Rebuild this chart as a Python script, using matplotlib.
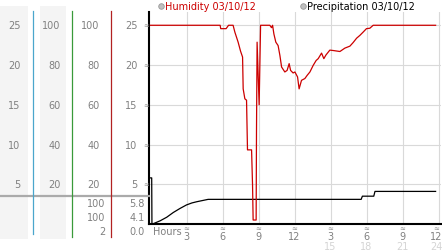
import matplotlib
matplotlib.use("Agg")
import matplotlib.pyplot as plt
from matplotlib.lines import Line2D
from matplotlib.patches import Rectangle
from matplotlib.transforms import blended_transform_factory

# ---------------- data ----------------
hum_hours = [0.0, 5.8, 5.85, 6.3, 6.5, 6.88, 7.03, 7.3, 7.5, 7.67, 7.72, 7.86, 8.0, 8.08,
             8.42, 8.5, 8.55, 8.8, 8.83, 8.88, 9.05, 9.17, 9.94, 10.08, 10.17, 10.28,
             10.44, 10.63, 10.78, 10.92, 11.19, 11.38, 11.55, 11.67, 11.88, 12.03, 12.25,
             12.38, 12.58, 12.86, 13.05, 13.28, 13.55, 13.8, 13.97, 14.25, 14.44, 14.61,
             14.94, 15.22, 15.78, 16.19, 16.61, 16.88, 17.17, 17.44, 17.72, 17.99, 18.27,
             18.55, 23.75]
hum_pct = [100, 100, 98.3, 98.3, 100, 100, 96.5, 91.5, 87, 84, 68, 63, 62.3, 37.3,
           37.3, 19.7, 2, 2, 46.6, 91.5, 60, 100, 100, 98.8, 100, 95.6,
           91.5, 89.8, 84.8, 79, 76.5, 77.3, 80.7, 77.3, 76, 76.5, 74,
           68, 72.3, 73.2, 74.8, 76.5, 79.8, 82.3, 83.2, 86, 83.2, 85,
           87.5, 87.3, 86.8, 88.5, 89.5, 91.3, 93.5, 94.9, 96.6, 98.3, 98.5,
           100, 100]

pre_hours = [0.0, 0.1, 0.12, 0.25, 0.8, 1.35, 1.9, 2.45, 3.0, 3.45, 3.85, 4.8,
             17.55, 17.65, 18.6, 18.7, 23.75]
pre_mm = [5.8, 5.8, 0.0, 0.05, 0.4, 0.85, 1.45, 1.95, 2.4, 2.65, 2.8, 3.1,
          3.1, 3.5, 3.5, 4.1, 4.1]

left_scale = [25, 20, 15, 10, 5]          # columns 1 and 4
pct_scale = [100, 80, 60, 40, 20]         # columns 2 and 3
hum_stats = ["100", "100", "2"]
pre_stats = ["5.8", "4.1", "0.0"]
hour_ticks = [3, 6, 9, 12, 15, 18, 21, 24]
hour_labels = ["3", "6", "9", "12", "3", "6", "9", "12"]
hour_labels2 = ["15", "18", "21", "24"]
legend_items = ["Humidity 03/10/12", "Precipitation 03/10/12"]

# ---------------- figure ----------------
W, H = 442, 253
fig = plt.figure(figsize=(W / 100, H / 100), dpi=100)
fig.patch.set_facecolor("white")

def fx(x):
    return x / W

def fy(y):
    return 1 - y / H

GRAY = "#808080"
MARK = "#8c8c8c"
FS = 7

ax = fig.add_axes([fx(149.3), fy(225), (441 - 149.3) / W, 212 / H])
ax.set_xlim(-0.1, 24.2)
ax.set_ylim(0, 26.67)
ax_h = ax.twinx()
ax_h.set_ylim(0, 26.67 * 4)
for a in (ax, ax_h):
    for s in ("top", "right"):
        a.spines[s].set_visible(False)
ax_h.spines["left"].set_visible(False)
ax_h.spines["bottom"].set_visible(False)
ax_h.set_yticks([])
ax.spines["left"].set_linewidth(1.5)
ax.spines["bottom"].set_linewidth(1.5)
ax.set_xticks(hour_ticks)
ax.set_yticks(left_scale)
ax.tick_params(length=0, labelleft=False, labelbottom=False)
ax.grid(True, color="#d9d9d9", linewidth=0.8)
ax.set_axisbelow(True)

ax.plot(pre_hours, pre_mm, color="black", linewidth=0.9, zorder=3)
ax_h.plot(hum_hours, hum_pct, color="#cc0000", linewidth=0.9, zorder=2)

# y labels on main scale with little markers
for v in left_scale:
    ax.annotate(str(v), xy=(0, v), xycoords=("axes fraction", "data"),
                xytext=(-12, 0), textcoords="offset pixels",
                ha="right", va="center", fontsize=FS, color=GRAY)
    ax.annotate("≈", xy=(0, v), xycoords=("axes fraction", "data"),
                xytext=(-3.5, 0), textcoords="offset pixels",
                ha="center", va="center", fontsize=5, color=MARK)

# x labels
ax.annotate("Hours", xy=(0, 0), xycoords="axes fraction", xytext=(4, -7),
            textcoords="offset pixels", ha="left", va="center", fontsize=FS, color=GRAY)
for i, (h, lab) in enumerate(zip(hour_ticks, hour_labels)):
    dx = -2 if i == len(hour_ticks) - 1 else 0
    ax.annotate("≈", xy=(h, 0), xycoords=("data", "axes fraction"), xytext=(dx, -4),
                textcoords="offset pixels", ha="center", va="center", fontsize=5,
                color=MARK)
    ax.annotate(lab, xy=(h, 0), xycoords=("data", "axes fraction"), xytext=(dx, -12),
                textcoords="offset pixels", ha="center", va="center", fontsize=FS,
                color=GRAY)
for i, (h, lab) in enumerate(zip(hour_ticks[4:], hour_labels2)):
    dx = -2 if i == len(hour_labels2) - 1 else 0
    ax.annotate(lab, xy=(h, 0), xycoords=("data", "axes fraction"), xytext=(dx, -22),
                textcoords="offset pixels", ha="center", va="center", fontsize=FS,
                color="#d4d4d4")

# ---------------- left panel ----------------
for x0, x1 in ((0, 28), (40, 65.7)):
    fig.add_artist(Rectangle((fx(x0), fy(240)), (x1 - x0) / W, 233 / H,
                             transform=fig.transFigure, facecolor="#f4f4f4",
                             edgecolor="none", zorder=0))

fig.add_artist(Line2D([0, fx(149)], [fy(196.7), fy(196.7)], transform=fig.transFigure,
                      color="#aaaaaa", linewidth=1.6, zorder=1))
for x, y1, c in ((33.3, 235, "#4aa6cc"), (72.3, 238, "#3a9a3a"), (111.3, 238, "#b22222")):
    fig.add_artist(Line2D([fx(x), fx(x)], [fy(12), fy(y1)], transform=fig.transFigure,
                          color=c, linewidth=0.9, zorder=2))

tr_u = blended_transform_factory(fig.transFigure, ax.transData)
tr_p = blended_transform_factory(fig.transFigure, ax_h.transData)
for v in left_scale:
    fig.text(fx(20.5), v, str(v), transform=tr_u, ha="right", va="center",
             fontsize=FS, color=GRAY)
for v in pct_scale:
    fig.text(fx(60.5), v, str(v), transform=tr_p, ha="right", va="center",
             fontsize=FS, color=GRAY)
    fig.text(fx(99.5), v, str(v), transform=tr_p, ha="right", va="center",
             fontsize=FS, color=GRAY)

for y, hs, ps in zip((204, 218, 232), hum_stats, pre_stats):
    fig.text(fx(105), fy(y), hs, ha="right", va="center", fontsize=FS, color=GRAY)
    fig.text(fx(144.5), fy(y), ps, ha="right", va="center", fontsize=FS, color=GRAY)

# ---------------- legend ----------------
for (xc, xt), lab, col in zip(((161, 165), (303, 307)), legend_items, ("#cc0000", "black")):
    fig.add_artist(Line2D([fx(xc)], [fy(7)], marker="o", markersize=4,
                          markerfacecolor="#c0c0c0", markeredgecolor="#999999",
                          markeredgewidth=0.6, transform=fig.transFigure))
    fig.text(fx(xt), fy(7), lab, ha="left", va="center", fontsize=FS, color=col)

fig.savefig("out.png", dpi=100)
